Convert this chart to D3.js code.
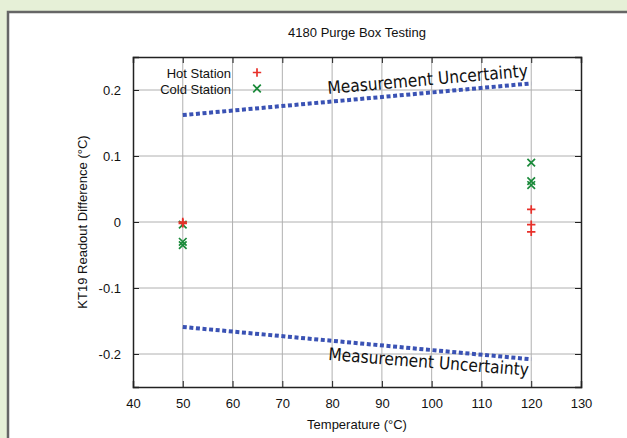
<!DOCTYPE html>
<html><head><meta charset="utf-8">
<script src="https://cdn.jsdelivr.net/npm/d3@7"></script>
<style>
html,body{margin:0;padding:0;background:#e6f0d7;}
svg{display:block;}
</style></head>
<body>
<script>
const title = "4180 Purge Box Testing";
const xLabel = "Temperature (°C)";
const yLabel = "KT19 Readout Difference (°C)";
const xTicks = [40,50,60,70,80,90,100,110,120,130];
const yTicks = [-0.2,-0.1,0,0.1,0.2];
const yTickLabels = ["-0.2","-0.1","0","0.1","0.2"];
const hotX = [50,50,120,120,120];
const hotY = [0.0,-0.002,0.019,-0.004,-0.015];
const coldX = [50,50,50,120,120,120];
const coldY = [-0.004,-0.030,-0.035,0.090,0.062,0.056];
const upperX = [50,120];
const upperY = [0.162,0.210];
const lowerX = [50,120];
const lowerY = [-0.159,-0.208];
const bandLabel = "Measurement Uncertainty";
const legendNames = ["Hot Station","Cold Station"];

const W=627,H=438;
const svg=d3.select("body").append("svg").attr("width",W).attr("height",H);
svg.append("rect").attr("x",8).attr("y",12).attr("width",W+20).attr("height",H+20)
  .attr("fill","#fff").attr("stroke","#666").attr("stroke-width",2.5);

const L=133,R=581,T=57,B=387;
const x=d3.scaleLinear().domain([40,130]).range([L,R]);
const y=d3.scaleLinear().domain([-0.25,0.25]).range([B,T]);
const font="Liberation Sans, Arial, sans-serif";

const g=svg.append("g");
g.selectAll(".gx").data(xTicks.slice(1,-1)).join("line")
  .attr("x1",d=>x(d)).attr("x2",d=>x(d)).attr("y1",T).attr("y2",B)
  .attr("stroke","#b0b0b0").attr("stroke-width",1);
g.selectAll(".gy").data(yTicks).join("line")
  .attr("y1",d=>y(d)).attr("y2",d=>y(d)).attr("x1",L).attr("x2",R)
  .attr("stroke","#b0b0b0").attr("stroke-width",1);

const axB=d3.axisBottom(x).tickValues(xTicks).tickSize(-6).tickPadding(12).tickFormat(d3.format("d"));
const axT=d3.axisTop(x).tickValues(xTicks).tickSize(-6).tickFormat("");
const axL=d3.axisLeft(y).tickValues(yTicks).tickSize(-6).tickPadding(12).tickFormat((d,i)=>yTickLabels[i]);
const axR=d3.axisRight(y).tickValues(yTicks).tickSize(-6).tickFormat("");
function styleAx(sel){sel.select(".domain").attr("stroke","#222").attr("stroke-width",1.5);
  sel.selectAll(".tick line").attr("stroke","#222");
  sel.selectAll("text").attr("font-family",font).attr("font-size",13).attr("fill","#111");}
svg.append("g").attr("transform",`translate(0,${B})`).call(axB).call(styleAx);
svg.append("g").attr("transform",`translate(0,${T})`).call(axT).call(styleAx);
svg.append("g").attr("transform",`translate(${L},0)`).call(axL).call(styleAx);
svg.append("g").attr("transform",`translate(${R},0)`).call(axR).call(styleAx);

const line=d3.line().x(d=>x(d[0])).y(d=>y(d[1]));
[[upperX,upperY],[lowerX,lowerY]].forEach(([xs,ys])=>{
  svg.append("path").datum(xs.map((v,i)=>[v,ys[i]])).attr("d",line)
   .attr("fill","none").attr("stroke","#3a52b4").attr("stroke-width",4).attr("stroke-dasharray","4,2.6");
});
svg.append("text").attr("transform",`translate(328,94) rotate(-5)`)
  .attr("font-family","DejaVu Sans, Verdana, sans-serif").attr("font-size",17.5).attr("fill","#111")
  .attr("textLength",201).attr("lengthAdjust","spacingAndGlyphs").text(bandLabel);
svg.append("text").attr("transform",`translate(328,360) rotate(4.5)`)
  .attr("font-family","DejaVu Sans, Verdana, sans-serif").attr("font-size",17.5).attr("fill","#111")
  .attr("textLength",201).attr("lengthAdjust","spacingAndGlyphs").text(bandLabel);

const red="#e8302a", green="#1a8a3a";
function plus(sel,cx,cy,s){sel.append("path").attr("d",`M${cx-s},${cy}H${cx+s}M${cx},${cy-s}V${cy+s}`).attr("stroke",red).attr("stroke-width",1.7).attr("fill","none");}
function cross(sel,cx,cy,s){sel.append("path").attr("d",`M${cx-s},${cy-s}L${cx+s},${cy+s}M${cx-s},${cy+s}L${cx+s},${cy-s}`).attr("stroke",green).attr("stroke-width",1.7).attr("fill","none");}
const mk=svg.append("g");
coldX.forEach((v,i)=>cross(mk,x(v),y(coldY[i]),3.8));
hotX.forEach((v,i)=>plus(mk,x(v),y(hotY[i]),4.2));

const lg=svg.append("g");
legendNames.forEach((n,i)=>{
  lg.append("text").attr("x",231).attr("y",77.5+i*16).attr("text-anchor","end")
    .attr("font-family",font).attr("font-size",13).attr("fill","#111").text(n);
});
plus(lg,257,72.5,4.2);
cross(lg,257,88.5,3.8);

svg.append("text").attr("x",(L+R)/2).attr("y",37).attr("text-anchor","middle")
  .attr("font-family",font).attr("font-size",13).attr("fill","#111").text(title);
svg.append("text").attr("x",(L+R)/2).attr("y",429).attr("text-anchor","middle")
  .attr("font-family",font).attr("font-size",13).attr("fill","#111").text(xLabel);
svg.append("text").attr("transform",`translate(87,${(T+B)/2}) rotate(-90)`).attr("text-anchor","middle")
  .attr("font-family",font).attr("font-size",13).attr("fill","#111").text(yLabel);
</script>
</body></html>
